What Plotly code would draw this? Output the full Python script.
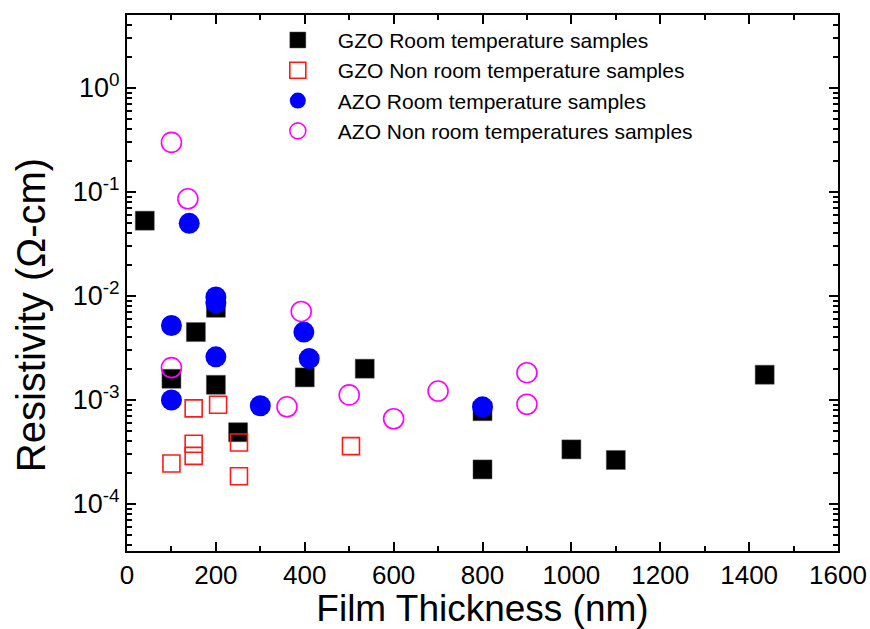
import plotly.graph_objects as go

# GZO room temperature samples
gzo_rt_x = [40, 100, 155, 200, 200, 250, 400, 535, 800, 800, 1000, 1100, 1435]
gzo_rt_y = [0.053, 1.6e-3, 4.5e-3, 7.7e-3, 1.4e-3, 4.9e-4, 1.65e-3, 2.0e-3, 7.8e-4, 2.15e-4, 3.35e-4, 2.65e-4, 1.75e-3]

# GZO non room temperature samples
gzo_nrt_x = [150, 205, 150, 150, 100, 252, 252, 504]
gzo_nrt_y = [8.3e-4, 9.0e-4, 3.8e-4, 2.9e-4, 2.45e-4, 3.9e-4, 1.85e-4, 3.6e-4]

# AZO room temperature samples
azo_rt_x = [100, 100, 140, 200, 200, 200, 300, 398, 410, 800]
azo_rt_y = [5.2e-3, 1.0e-3, 0.05, 0.0098, 8.6e-3, 2.6e-3, 8.8e-4, 4.5e-3, 2.5e-3, 8.6e-4]

# AZO non room temperature samples
azo_nrt_x = [100, 137, 100, 392, 360, 500, 600, 700, 900, 900]
azo_nrt_y = [0.3, 0.086, 2.05e-3, 7.1e-3, 8.6e-4, 1.12e-3, 6.6e-4, 1.22e-3, 1.83e-3, 9.1e-4]

y_tickvals = [1e-4, 1e-3, 1e-2, 1e-1, 1e0]
y_ticktext = ["10<sup>-4</sup>", "10<sup>-3</sup>", "10<sup>-2</sup>", "10<sup>-1</sup>", "10<sup>0</sup>"]
y_minor = [m * 10.0 ** e for e in range(-5, 1) for m in range(2, 10)]

x_title = "Film Thickness (nm)"
y_title = "Resistivity (Ω-cm)"

fig = go.Figure()
fig.add_trace(go.Scatter(x=gzo_rt_x, y=gzo_rt_y, mode="markers",
                         name="GZO Room temperature samples",
                         marker=dict(symbol="square", size=19, color="black",
                                     line=dict(width=0.5, color="#555"))))
fig.add_trace(go.Scatter(x=gzo_nrt_x, y=gzo_nrt_y, mode="markers",
                         name="GZO Non room temperature samples",
                         marker=dict(symbol="square-open", size=17, color="#ff1a1a",
                                     line=dict(width=1.6))))
fig.add_trace(go.Scatter(x=azo_rt_x, y=azo_rt_y, mode="markers",
                         name="AZO Room temperature samples",
                         marker=dict(symbol="circle", size=21, color="#0000ff",
                                     line=dict(width=0))))
fig.add_trace(go.Scatter(x=azo_nrt_x, y=azo_nrt_y, mode="markers",
                         name="AZO Non room temperatures samples",
                         marker=dict(symbol="circle-open", size=20, color="#ff00ff",
                                     line=dict(width=1.6))))

font_family = "Liberation Sans, Arial"

fig.update_layout(
    width=870, height=629,
    margin=dict(l=127, r=32, t=15, b=78),
    paper_bgcolor="white", plot_bgcolor="white",
    font=dict(family=font_family, color="black"),
    showlegend=True,
    legend=dict(x=0.184, y=0.991, xanchor="left", yanchor="top",
                bgcolor="rgba(0,0,0,0)", borderwidth=0,
                font=dict(family=font_family, size=21, color="black"),
                itemsizing="trace", tracegroupgap=0, itemwidth=70),
    xaxis=dict(
        range=[0, 1600], tickmode="linear", tick0=0, dtick=200,
        ticks="inside", ticklen=9, tickwidth=2, tickcolor="black",
        showline=True, linecolor="black", linewidth=2, mirror="allticks",
        showgrid=False, zeroline=False, automargin=False,
        tickfont=dict(family=font_family, size=26, color="black"),
        minor=dict(ticks="inside", dtick=100, ticklen=5, tickwidth=2, tickcolor="black", showgrid=False),
        title=dict(text=x_title, standoff=14,
                   font=dict(family=font_family, size=37, color="black")),
    ),
    yaxis=dict(
        type="log", range=[-4.452, 0.702],
        tickmode="array", tickvals=y_tickvals, ticktext=y_ticktext,
        ticks="inside", ticklen=9, tickwidth=2, tickcolor="black",
        showline=True, linecolor="black", linewidth=2, mirror="allticks",
        showgrid=False, zeroline=False, automargin=False,
        tickfont=dict(family=font_family, size=27, color="black"),
        minor=dict(ticks="inside", tickmode="array", tickvals=y_minor, ticklen=5, tickwidth=2,
                   tickcolor="black", showgrid=False),
    ),
    annotations=[dict(text=y_title, xref="paper", yref="paper", x=-0.135, y=0.44,
                      xanchor="center", yanchor="middle", textangle=-90, showarrow=False,
                      font=dict(family=font_family, size=40, color="black"))],
)

fig.write_html("out.html")
